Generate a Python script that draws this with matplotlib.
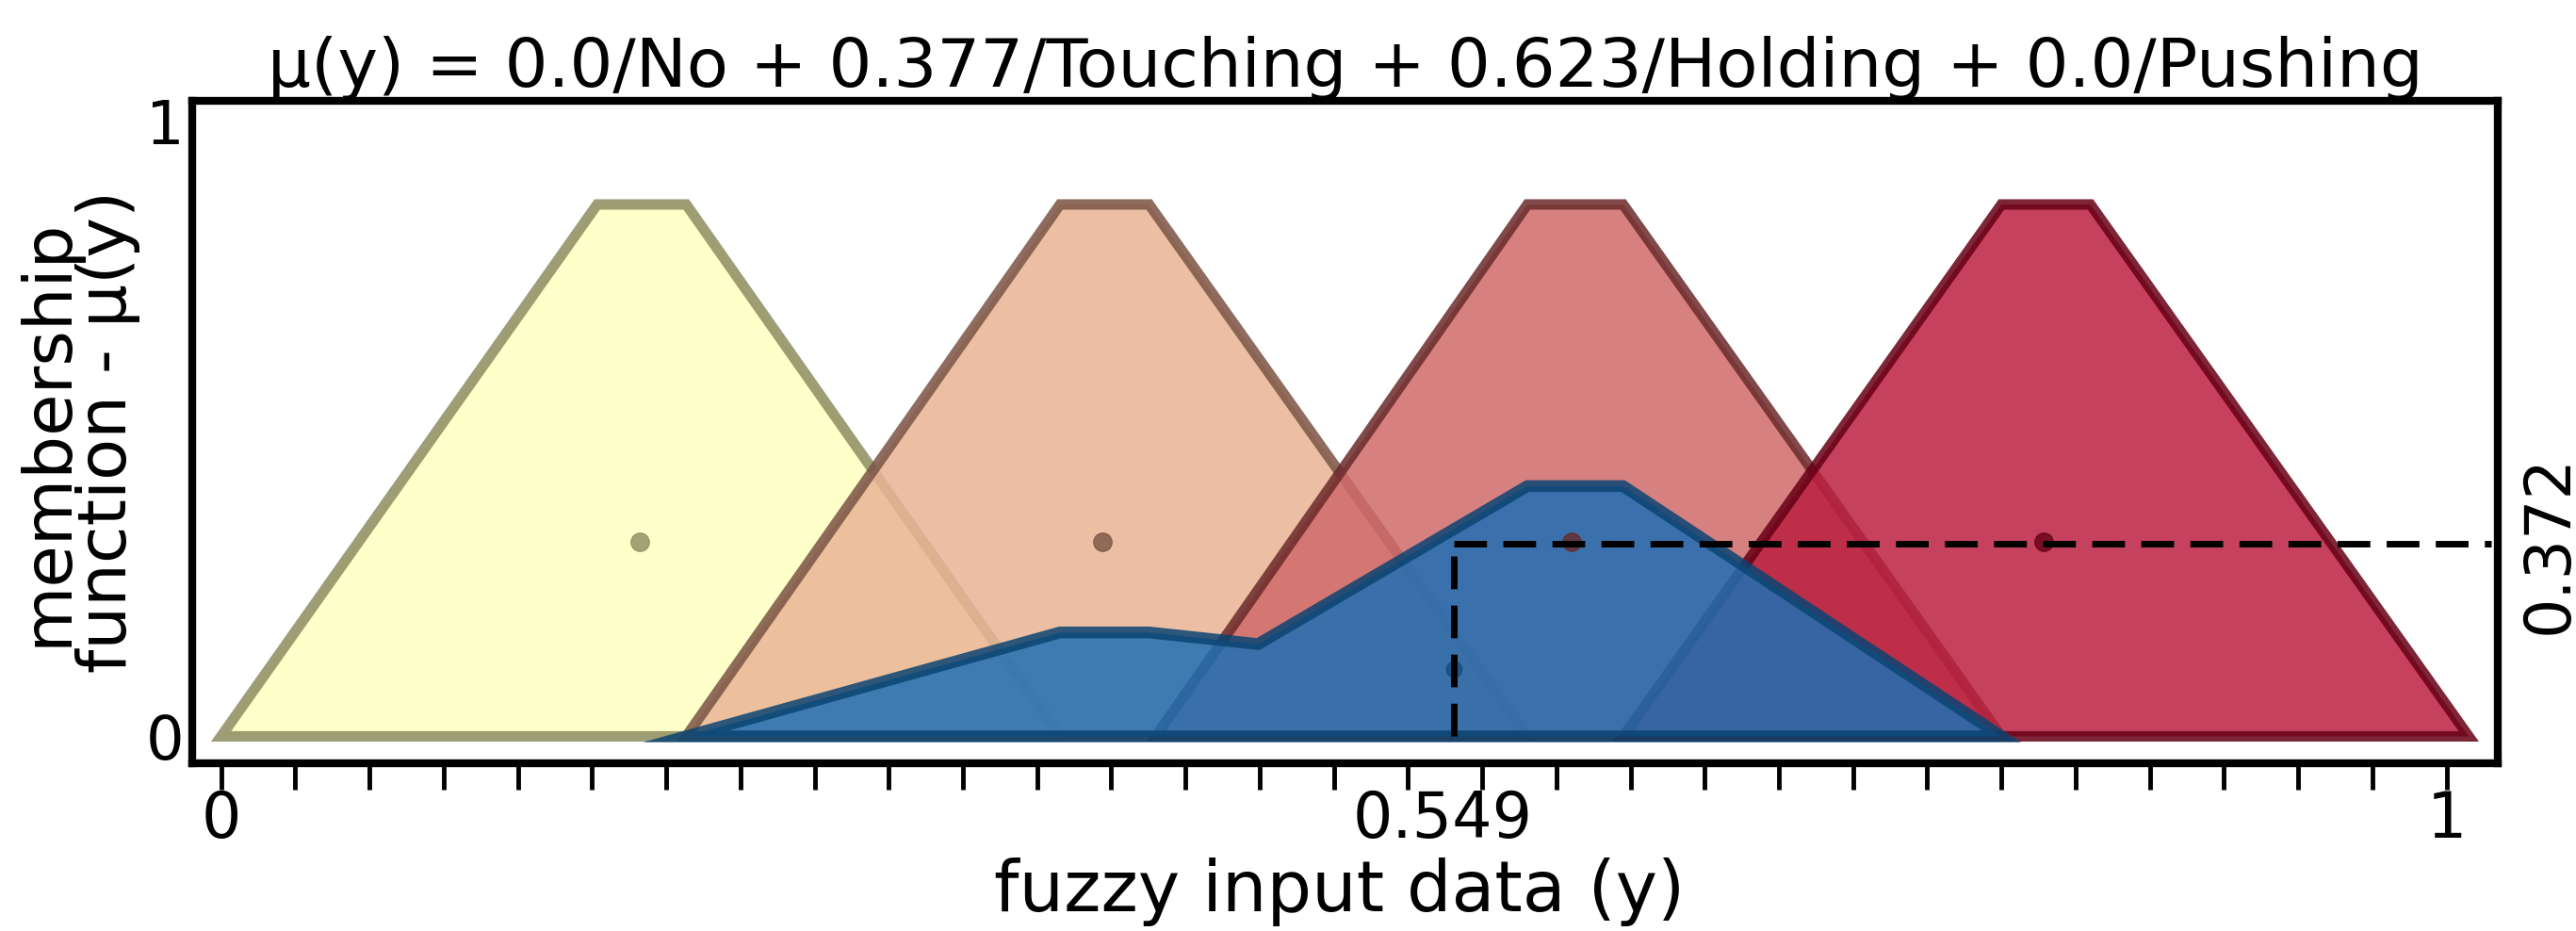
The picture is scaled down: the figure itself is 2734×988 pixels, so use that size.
import numpy as np
import matplotlib
matplotlib.use('Agg')
import matplotlib.pyplot as plt

# membership functions (trapezoids)
names = ['No', 'Touching', 'Holding', 'Pushing']
trap_x = [[0.0, 0.169, 0.209, 0.377],
          [0.209, 0.377, 0.417, 0.587],
          [0.420, 0.587, 0.630, 0.800],
          [0.630, 0.800, 0.840, 1.010]]
trap_h = 0.865
fills = ['#ffffc0', '#e9b496', '#d06a6a', '#bb2040']
edges = ['#8c8c60', '#7a5444', '#6a2a2a', '#660015']
dot_x = [0.188, 0.396, 0.607, 0.819]
dot_y = [0.317, 0.317, 0.317, 0.317]

# aggregated output
agg_x = [0.209, 0.377, 0.417, 0.466, 0.587, 0.630, 0.800, 0.209]
agg_y = [0.0, 0.169, 0.169, 0.150, 0.407, 0.407, 0.0, 0.0]
crisp_x = 0.554
crisp_y = 0.313
title = 'μ(y) = 0.0/No + 0.377/Touching + 0.623/Holding + 0.0/Pushing'

fig = plt.figure(figsize=(27.34, 9.88), dpi=100)
ax = fig.add_axes([0.0746, 0.18, 0.8950, 0.712])

for i in range(4):
    xs = trap_x[i] + [trap_x[i][0]]
    ys = [0, trap_h, trap_h, 0, 0]
    ax.fill(xs, ys, facecolor=fills[i], edgecolor=edges[i], alpha=0.85, lw=8)
    ax.plot(dot_x[i], dot_y[i], 'o', color=edges[i], ms=14, alpha=0.8)

ax.fill(agg_x, agg_y, facecolor='#1f6fb4', edgecolor='#0b4472', alpha=0.85, lw=9)
ax.plot(crisp_x, 0.109, 'o', color='#0b4472', ms=12, alpha=0.6)

ax.plot([crisp_x, crisp_x], [0, crisp_y], color='k', lw=5, dashes=(5, 2.5))
ax.plot([crisp_x, 1.02], [crisp_y, crisp_y], color='k', lw=5, dashes=(5, 2.5))

ax.set_xlim(-0.013, 1.023)
ax.set_ylim(-0.044, 1.034)
ax.set_xticks(np.linspace(0, 1, 31))
ax.set_xticklabels([''] * 31)
ax.tick_params(axis='x', length=20, width=3.5, direction='out')
ax.set_yticks([0, 1])
ax.set_yticklabels(['0', '1'], fontsize=46)
ax.tick_params(axis='y', length=0, pad=6)
for s in ax.spines.values():
    s.set_linewidth(6)
for xv, lab in [(0, '0'), (0.549, '0.549'), (1, '1')]:
    ax.text(xv, -0.085, lab, ha='center', va='top', fontsize=48)
ax.text(1.032, crisp_y, '0.372', rotation=90, ha='left', va='center', fontsize=48)
fig.text(0.52, 0.005, 'fuzzy input data (y)', ha='center', va='bottom', fontsize=54)
ax.set_ylabel('membership\nfunction - μ(y)', fontsize=52, linespacing=0.9, labelpad=4)
ax.set_title(title, fontsize=52, pad=6)

fig.savefig('out.png', dpi=100)
